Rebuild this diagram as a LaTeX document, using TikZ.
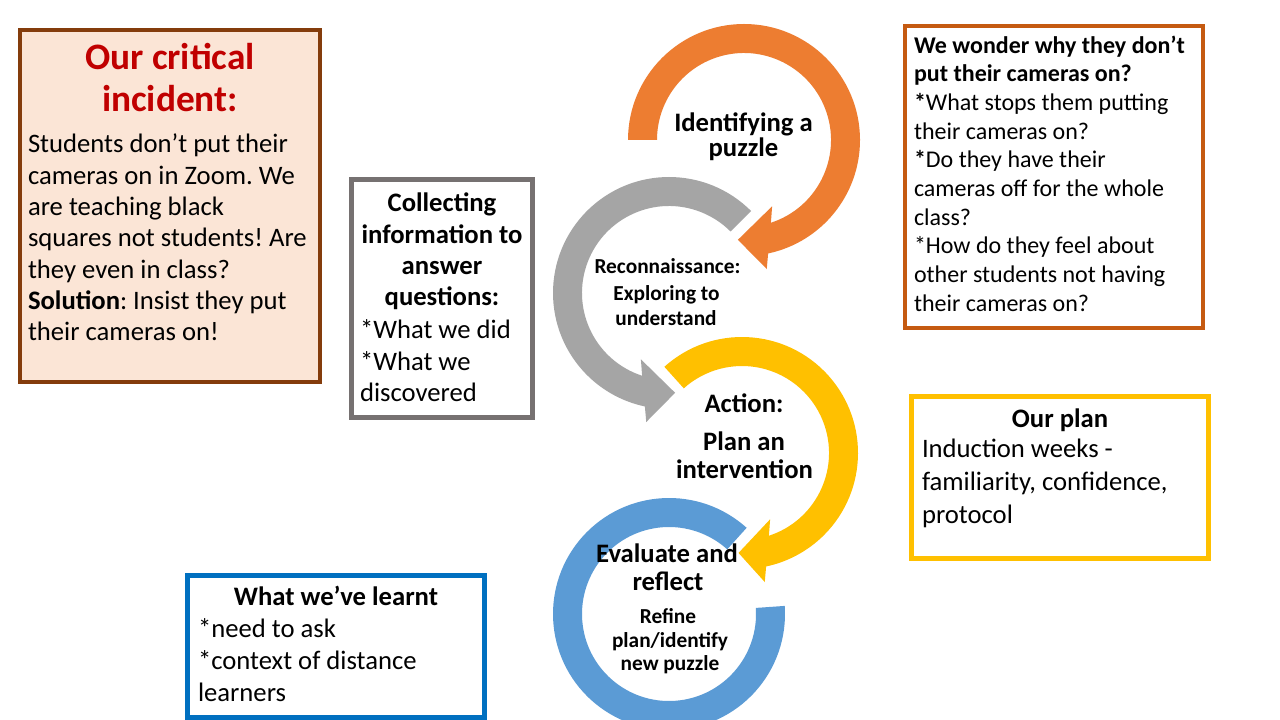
\documentclass[tikz,border=0pt]{standalone}
\usepackage{fontspec}
\setmainfont{Carlito}
\usetikzlibrary{calc}
\frenchspacing
\definecolor{cOrange}{HTML}{ED7D31}
\definecolor{cGray}{HTML}{A5A5A5}
\definecolor{cYellow}{HTML}{FFC000}
\definecolor{cBlue}{HTML}{5B9BD5}
\definecolor{critBorder}{HTML}{843C0C}
\definecolor{critFill}{HTML}{FBE5D6}
\definecolor{critRed}{HTML}{C00000}
\definecolor{wonderBorder}{HTML}{C55A11}
\definecolor{collBorder}{HTML}{767171}
\definecolor{learnBorder}{HTML}{0070C0}
\tikzset{
  txt/.style={inner sep=0pt, outer sep=0pt},
  bodyL/.style={txt, anchor=north west, align=left},
  headC/.style={txt, anchor=north, align=center},
  lineC/.style={txt, anchor=base},
  fA/.style={font=\fontsize{20}{23.5}\selectfont},
  fAb/.style={font=\bfseries\fontsize{20}{23.5}\selectfont},
  fBb/.style={font=\bfseries\fontsize{16}{19}\selectfont},
}
\begin{document}
\begin{tikzpicture}[x=0.75pt,y=0.75pt]
\clip (0,0) rectangle (1280,-720);
\fill[white] (0,0) rectangle (1280,-720);

% ---- cycle rings ----
\coordinate (co) at (744,-140);
\coordinate (cg) at (669,-293);
\coordinate (cy) at (742,-453);
\coordinate (cb) at (669,-614);

\fill[cBlue] ($(cb)+(48:116)$) arc[start angle=48,end angle=364,radius=116]
  -- ($(cb)+(364:87)$) arc[start angle=364,end angle=48,radius=87] -- cycle;

\fill[cYellow] ($(cy)+(132:116)$) arc[start angle=132,end angle=-78,radius=116]
  -- ($(cy)+(-80:131)$) -- ($(cy)+(-92:100)$) -- ($(cy)+(-67:72)$)
  -- ($(cy)+(-72:87)$) arc[start angle=-72,end angle=132,radius=87] -- cycle;

\fill[cGray] ($(cg)+(45:116)$) arc[start angle=45,end angle=258,radius=116]
  -- ($(cg)+(260:131)$) -- ($(cg)+(273.5:100)$) -- ($(cg)+(247:72)$)
  -- ($(cg)+(252:87)$) arc[start angle=252,end angle=45,radius=87] -- cycle;

\fill[cOrange] ($(co)+(180:116)$) arc[start angle=180,end angle=-78,radius=116]
  -- ($(co)+(-80:131)$) -- ($(co)+(-93.5:100)$) -- ($(co)+(-67:72)$)
  -- ($(co)+(-72:87)$) arc[start angle=-72,end angle=180,radius=87] -- cycle;

% ---- cycle labels ----
\node[lineC,fAb] (id1) at (743.5,-132) {Identifying a};
\node[lineC,fAb] (id2) at (743.5,-157) {puzzle};
\node[lineC,fBb] (rc1) at (667.5,-273) {Reconnaissance:};
\node[lineC,fBb] (rc2) at (666.5,-300) {Exploring to};
\node[lineC,fBb] (rc3) at (666,-325) {understand};
\node[lineC,fAb] (ac1) at (744,-412) {Action:};
\node[lineC,fAb] (ac2) at (744,-450) {Plan an};
\node[lineC,fAb] (ac3) at (744.5,-478) {intervention};
\node[lineC,fAb] (ev1) at (667,-562) {Evaluate and};
\node[lineC,fAb] (ev2) at (668,-590) {reflect};
\node[lineC,fBb] (ev3) at (668,-623) {Refine};
\node[lineC,fBb] (ev4) at (670,-647) {plan/identify};
\node[lineC,fBb] (ev5) at (670,-670) {new puzzle};

% ---- critical incident box ----
\draw[critBorder, fill=critFill, line width=2.7pt] (20,-30) rectangle (320,-382);
\node[headC, text=critRed, font=\bfseries\fontsize{28}{31.5}\selectfont] (critT) at (170,-40.6)
  {\strut Our critical\\incident:};
\node[bodyL,fA] (critB) at (28,-131)
  {\strut Students don’t put their\\cameras on in Zoom. We\\are teaching black\\squares not students! Are\\they even in class?\\\textbf{Solution}: Insist they put\\their cameras on!};

% ---- wonder box ----
\draw[wonderBorder, line width=3pt] (905,-26) rectangle (1203,-328);
\node[bodyL, font=\fontsize{18}{21.5}\selectfont] (wond) at (914,-33)
  {\strut\textbf{We wonder why they don’t}\\\textbf{put their cameras on?}\\\textbf{*}What stops them putting\\their cameras on?\\\textbf{*}Do they have their\\cameras off for the whole\\class?\\*How do they feel about\\other students not having\\their cameras on?};

% ---- collecting box ----
\draw[collBorder, line width=3.75pt] (351,-180) rectangle (532,-417);
\node[headC,fAb] (collT) at (442,-190)
  {\strut Collecting\\information to\\answer\\questions:};
\node[bodyL,fA] (collB) at (360,-317)
  {\strut *What we did\\*What we\\discovered};

% ---- plan box ----
\draw[cYellow, line width=3.75pt] (911,-396) rectangle (1208,-558);
\node[lineC,fAb] (planT) at (1060,-427) {Our plan};
\node[bodyL, font=\fontsize{20}{24.4}\selectfont] (planB) at (922,-435.2)
  {\strut Induction weeks -\\familiarity, confidence,\\protocol};

% ---- learnt box ----
\draw[learnBorder, line width=3.75pt] (187,-575) rectangle (484,-717);
\node[lineC,fAb] (learnT) at (336,-605) {What we’ve learnt};
\node[bodyL, font=\fontsize{20}{24}\selectfont] (learnB) at (198,-614.6)
  {\strut *need to ask\\*context of distance\\learners};
\end{tikzpicture}
\end{document}
